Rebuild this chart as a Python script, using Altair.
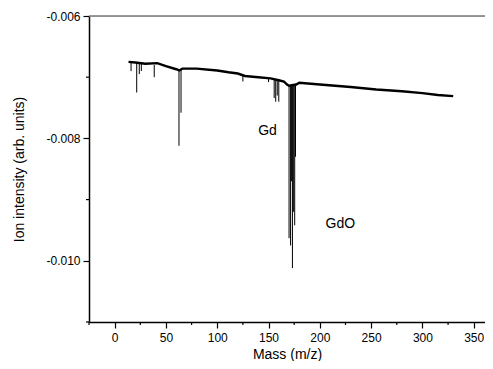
import altair as alt
import pandas as pd

# Baseline of the spectrum (mass, intensity)
base_mass = [13.5, 20, 30, 41.5, 50, 60, 63, 66, 80, 100, 111, 120, 127, 140, 152,
             160, 165, 168, 170, 177, 180, 200, 230, 255, 280, 300, 315, 330]
base_int = [-0.00675, -0.00676, -0.00678, -0.00677, -0.00682, -0.00687, -0.00689,
            -0.00686, -0.00686, -0.00689, -0.00692, -0.00694, -0.00698, -0.00700,
            -0.00702, -0.00705, -0.00707, -0.00712, -0.00714, -0.00712, -0.00709,
            -0.00712, -0.00716, -0.00720, -0.00723, -0.00726, -0.00729, -0.00731]

# Downward peaks (mass, baseline level, minimum)
peak_mass = [16, 21.5, 24, 26, 38.6, 62.7, 64.7, 125, 150, 155.5, 157, 158.5, 160,
             170.0, 171.5, 172.3, 173.3, 174.2, 175.5, 176.3]
peak_top = [-0.00676, -0.00677, -0.00677, -0.00678, -0.00680, -0.00689, -0.00688,
            -0.00697, -0.00702, -0.00704, -0.00704, -0.00705, -0.00705,
            -0.00714, -0.00714, -0.00714, -0.00714, -0.00713, -0.00712, -0.00711]
peak_min = [-0.00690, -0.00725, -0.00695, -0.00690, -0.00700, -0.00812, -0.00758,
            -0.00707, -0.00708, -0.00734, -0.00740, -0.00730, -0.00740,
            -0.00963, -0.00975, -0.00870, -0.01012, -0.00920, -0.00942, -0.00830]

labels = ["Gd", "GdO"]
label_mass = [149, 220]
label_int = [-0.00788, -0.0094]

x_major = [0, 50, 100, 150, 200, 250, 300, 350]
x_minor = [-25, 25, 75, 125, 175, 225, 275, 325]
y_major = [-0.010, -0.008, -0.006]
y_minor = [-0.011, -0.009, -0.007]

FONT = "Liberation Sans"
W, H = 396, 306

base_df = pd.DataFrame({"mass": base_mass, "intensity": base_int})
peak_df = pd.DataFrame({"mass": peak_mass, "top": peak_top, "low": peak_min})
lab_df = pd.DataFrame({"text": labels, "mass": label_mass, "intensity": label_int})

xscale = alt.Scale(domain=[-25, 361], nice=False, zero=False)
yscale = alt.Scale(domain=[-0.011, -0.006], nice=False, zero=False)

xaxis = alt.Axis(
    values=x_major,
    title="Mass (m/z)",
    labelOverlap=False, labelFlush=False,
    tickSize=6,
    domainColor="black", tickColor="black", domainWidth=1.5, tickWidth=1.2,
    labelFont=FONT, labelFontSize=12, labelColor="black", labelPadding=4,
    titleFont=FONT, titleFontSize=14, titleFontWeight="normal", titleColor="black",
    titleY=36, titleBaseline="alphabetic", grid=False,
)
yaxis = alt.Axis(
    values=y_major,
    title="Ion intensity (arb. units)",
    labelExpr="replace(format(datum.value, '.3f'), '\u2212', '-')",
    labelOverlap=False, labelFlush=False,
    tickSize=6,
    domainColor="black", tickColor="black", domainWidth=1.5, tickWidth=1.2,
    labelFont=FONT, labelFontSize=12, labelColor="black", labelPadding=3,
    titleFont=FONT, titleFontSize=14, titleFontWeight="normal", titleColor="black",
    titlePadding=19, grid=False,
)

baseline = alt.Chart(base_df).mark_line(color="black", strokeWidth=2.4).encode(
    x=alt.X("mass:Q", scale=xscale, axis=xaxis),
    y=alt.Y("intensity:Q", scale=yscale, axis=yaxis),
)

peaks = alt.Chart(peak_df).mark_rule(color="black", strokeWidth=1).encode(
    x=alt.X("mass:Q", scale=xscale),
    y=alt.Y("top:Q", scale=yscale),
    y2="low:Q",
)

text = alt.Chart(lab_df).mark_text(font=FONT, fontSize=14, color="black").encode(
    x=alt.X("mass:Q", scale=xscale),
    y=alt.Y("intensity:Q", scale=yscale),
    text="text:N",
)

xminor = alt.Chart(pd.DataFrame({"m": x_minor})).mark_rule(color="black", strokeWidth=1.2).encode(
    x=alt.X("m:Q", scale=xscale), y=alt.value(H), y2=alt.value(H + 3),
)
yminor = alt.Chart(pd.DataFrame({"v": y_minor})).mark_rule(color="black", strokeWidth=1.2).encode(
    y=alt.Y("v:Q", scale=yscale), x=alt.value(0), x2=alt.value(-3),
)

topline = alt.Chart(pd.DataFrame({"k": [0]})).mark_rule(color="#777777", strokeWidth=1.5).encode(
    x=alt.value(0), x2=alt.value(W), y=alt.value(0),
)

chart = alt.layer(topline, baseline, peaks, text, xminor, yminor).properties(
    width=W, height=H,
    autosize=alt.AutoSizeParams(type="none"),
    padding={"left": 81, "top": 8, "right": 0, "bottom": 39},
).configure_view(stroke=None).configure(background="white")

chart.save("out.html", embed_options={"renderer": "svg", "actions": False})
